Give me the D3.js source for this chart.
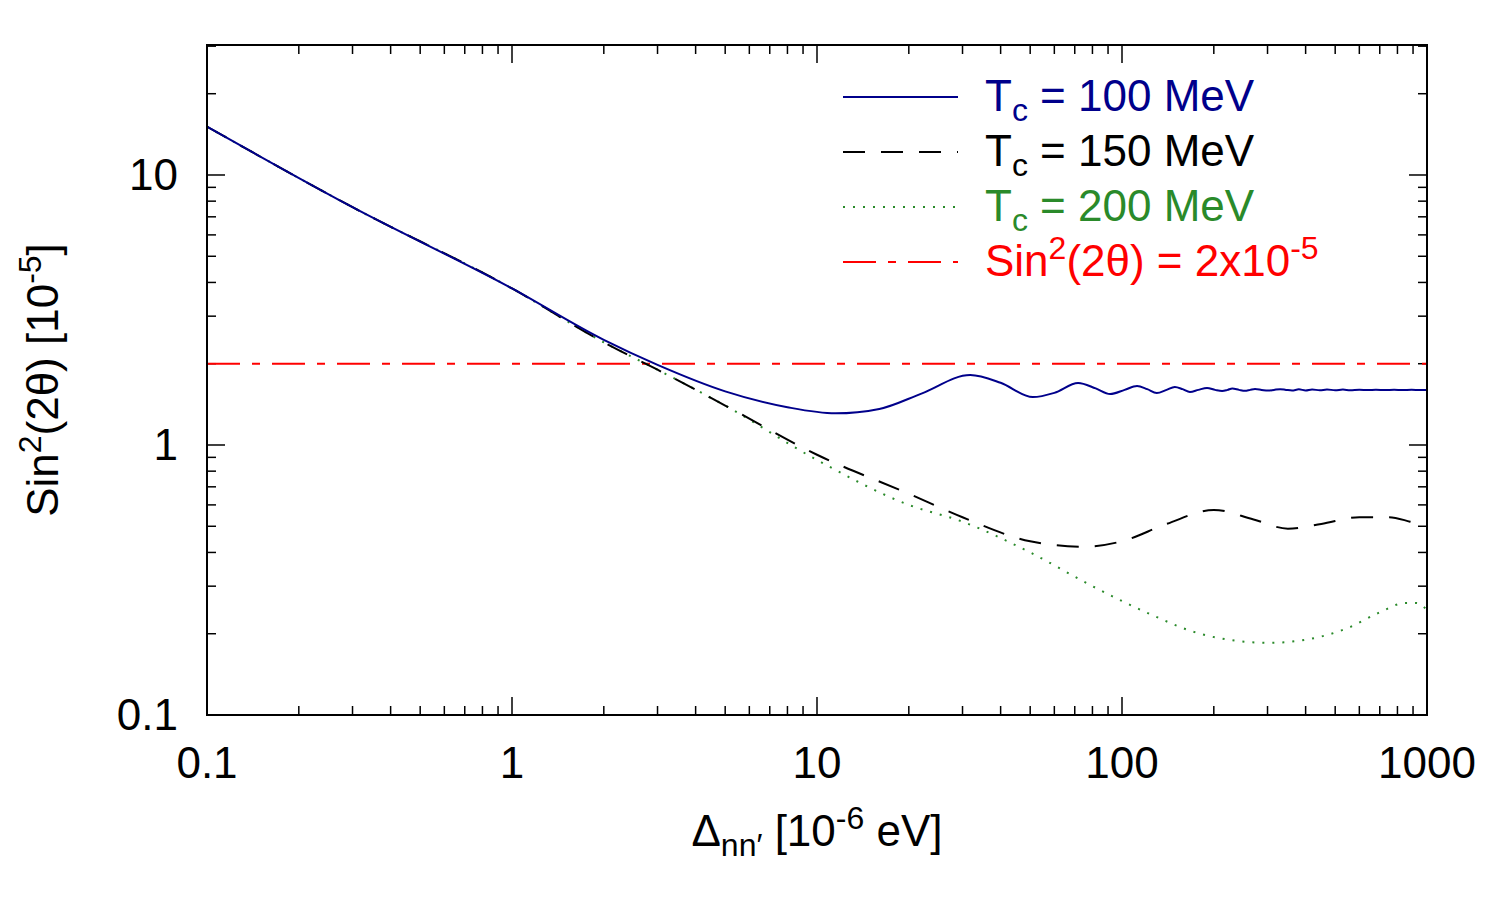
<!DOCTYPE html>
<html><head><meta charset="utf-8">
<script src="https://cdn.jsdelivr.net/npm/d3@7.9.0/dist/d3.min.js"></script>
<style>body{margin:0;background:#fff}text{font-family:"Liberation Sans",Arial,sans-serif}</style>
</head><body><svg width="1500" height="900"></svg>
<script>
// values
const blueX = [0.1, 0.3, 1, 2, 3, 5, 8, 11.5, 16, 22, 31.8, 40, 51, 60, 71.8, 82, 91.4, 102, 112, 121, 130, 140, 149, 158, 167, 178, 190, 202, 213, 222, 230, 242, 253, 263, 273, 287, 301, 315, 330, 345, 361, 380, 400, 420, 445, 470, 500, 530, 560, 600, 640, 680, 730, 780, 830, 890, 950, 1000];
const blueY = [15.1, 7.6, 3.8, 2.45, 1.98, 1.58, 1.38, 1.31, 1.36, 1.55, 1.816, 1.7, 1.505, 1.56, 1.697, 1.62, 1.544, 1.6, 1.654, 1.61, 1.557, 1.6, 1.64, 1.61, 1.571, 1.6, 1.626, 1.6, 1.585, 1.6, 1.618, 1.6, 1.588, 1.6, 1.612, 1.6, 1.59, 1.6, 1.61, 1.6, 1.592, 1.607, 1.593, 1.606, 1.594, 1.605, 1.595, 1.604, 1.596, 1.603, 1.597, 1.602, 1.598, 1.602, 1.598, 1.601, 1.599, 1.6];
const blackX = [0.1, 0.3, 1, 2, 3, 5, 10, 20, 30, 50, 75, 100, 140, 200, 270, 350, 450, 600, 750, 880, 1000];
const blackY = [15.1, 7.6, 3.8, 2.4, 1.9, 1.4, 0.92, 0.66, 0.54, 0.44, 0.42, 0.44, 0.51, 0.575, 0.53, 0.49, 0.51, 0.54, 0.54, 0.52, 0.5];
const greenX = [0.1, 0.3, 1, 2, 3, 5, 10, 20, 30, 50, 80, 120, 180, 240, 300, 400, 550, 700, 850, 920, 1000];
const greenY = [15.1, 7.6, 3.8, 2.4, 1.9, 1.4, 0.88, 0.6, 0.52, 0.4, 0.3, 0.24, 0.2, 0.188, 0.185, 0.19, 0.21, 0.24, 0.26, 0.26, 0.245];
const refLevel = 2;
const xTicks = [0.1, 1, 10, 100, 1000];
const xTickLabels = ['0.1', '1', '10', '100', '1000'];
const yTicks = [0.1, 1, 10];
const yTickLabels = ['0.1', '1', '10'];
const legendLabels = [['T', 'c', ' = 100 MeV'], ['T', 'c', ' = 150 MeV'], ['T', 'c', ' = 200 MeV']];

const L = 207, R = 1427, T = 45, B = 715;
const FS = 44, SS = 32;
const x = d3.scaleLog().domain([0.1, 1000]).range([L, R]);
const y = d3.scaleLog().domain([0.1, 30.3]).range([B, T]);
const svg = d3.select('svg');

svg.append('clipPath').attr('id', 'c').append('rect')
  .attr('x', L).attr('y', T).attr('width', R - L).attr('height', B - T);

// minor + major ticks on all four sides
const xMinor = [], yMinor = [];
for (let d = 0.1; d < 1000; d *= 10) for (let k = 2; k < 10; k++) xMinor.push(d * k);
for (let d = 0.1; d < 30; d *= 10) for (let k = 2; k < 10; k++) if (d * k <= 30.3) yMinor.push(d * k);
const g = svg.append('g').attr('stroke', '#000').attr('stroke-width', 1.5);
xMinor.forEach(v => { g.append('line').attr('x1', x(v)).attr('x2', x(v)).attr('y1', B).attr('y2', B - 9);
  g.append('line').attr('x1', x(v)).attr('x2', x(v)).attr('y1', T).attr('y2', T + 9); });
xTicks.forEach(v => { g.append('line').attr('x1', x(v)).attr('x2', x(v)).attr('y1', B).attr('y2', B - 18);
  g.append('line').attr('x1', x(v)).attr('x2', x(v)).attr('y1', T).attr('y2', T + 18); });
yMinor.forEach(v => { g.append('line').attr('y1', y(v)).attr('y2', y(v)).attr('x1', L).attr('x2', L + 9);
  g.append('line').attr('y1', y(v)).attr('y2', y(v)).attr('x1', R).attr('x2', R - 9); });
yTicks.forEach(v => { g.append('line').attr('y1', y(v)).attr('y2', y(v)).attr('x1', L).attr('x2', L + 18);
  g.append('line').attr('y1', y(v)).attr('y2', y(v)).attr('x1', R).attr('x2', R - 18); });

xTicks.forEach((v, i) => svg.append('text').attr('x', x(v)).attr('y', 778).attr('text-anchor', 'middle')
  .attr('font-size', FS).text(xTickLabels[i]));
yTicks.forEach((v, i) => svg.append('text').attr('x', 178).attr('y', y(v) + 15).attr('text-anchor', 'end')
  .attr('font-size', FS).text(yTickLabels[i]));

const line = d3.line().x(d => x(d[0])).y(d => y(d[1])).curve(d3.curveMonotoneX);
const plot = svg.append('g').attr('clip-path', 'url(#c)').attr('fill', 'none').attr('stroke-width', 2);
plot.append('line').attr('x1', L).attr('x2', R).attr('y1', y(refLevel)).attr('y2', y(refLevel))
  .attr('stroke', 'red').attr('stroke-dasharray', '33,12,8,12');
plot.append('path').attr('d', line(d3.zip(greenX, greenY))).attr('stroke', '#2a8a2a').attr('stroke-dasharray', '2,8');
plot.append('path').attr('d', line(d3.zip(blackX, blackY))).attr('stroke', '#000').attr('stroke-dasharray', '22,16');
plot.append('path').attr('d', line(d3.zip(blueX, blueY))).attr('stroke', '#00008b');

svg.append('rect').attr('x', L).attr('y', T).attr('width', R - L).attr('height', B - T)
  .attr('fill', 'none').attr('stroke', '#000').attr('stroke-width', 2);

// legend
const lc = ['#00008b', '#000', '#2a8a2a', 'red'];
const ld = [null, '22,16', '2,8', '33,12,8,12'];
[0, 1, 2, 3].forEach(i => {
  const ly = 97 + i * 55;
  svg.append('line').attr('x1', 843).attr('x2', 958).attr('y1', ly).attr('y2', ly)
    .attr('stroke', lc[i]).attr('stroke-width', 2).attr('stroke-dasharray', ld[i]);
  const t = svg.append('text').attr('x', 985).attr('y', ly + 14).attr('font-size', FS).attr('fill', lc[i]);
  if (i < 3) {
    t.append('tspan').text(legendLabels[i][0]);
    t.append('tspan').attr('font-size', SS).attr('dy', 10).text(legendLabels[i][1]);
    t.append('tspan').attr('dy', -10).text(legendLabels[i][2]);
  } else {
    t.append('tspan').text('Sin');
    t.append('tspan').attr('font-size', SS).attr('dy', -17).text('2');
    t.append('tspan').attr('dy', 17).text('(2θ) = 2x10');
    t.append('tspan').attr('font-size', SS).attr('dy', -17).text('-5');
  }
});

// axis titles
const xt = svg.append('text').attr('x', 817).attr('y', 846).attr('text-anchor', 'middle').attr('font-size', FS);
xt.append('tspan').text('Δ');
xt.append('tspan').attr('font-size', SS).attr('dy', 10).text('nn\u2032');
xt.append('tspan').attr('dy', -10).text(' [10');
xt.append('tspan').attr('font-size', SS).attr('dy', -17).text('-6');
xt.append('tspan').attr('dy', 17).text(' eV]');
const yt = svg.append('text').attr('transform', 'translate(58,380) rotate(-90)').attr('text-anchor', 'middle').attr('font-size', FS);
yt.append('tspan').text('Sin');
yt.append('tspan').attr('font-size', SS).attr('dy', -17).text('2');
yt.append('tspan').attr('dy', 17).text('(2θ) [10');
yt.append('tspan').attr('font-size', SS).attr('dy', -17).text('-5');
yt.append('tspan').attr('dy', 17).text(']');
</script></body></html>
